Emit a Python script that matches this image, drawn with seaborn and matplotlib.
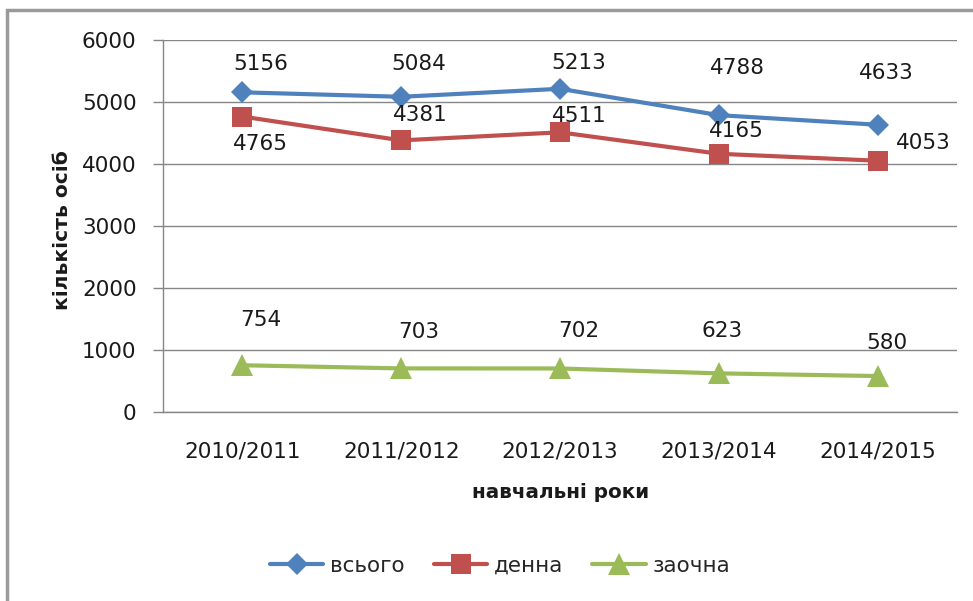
import pandas as pd
import seaborn as sns
import matplotlib.pyplot as plt
from matplotlib.patches import Rectangle

years = ['2010/2011', '2011/2012', '2012/2013', '2013/2014', '2014/2015']
vsogo = [5156, 5084, 5213, 4788, 4633]
denna = [4765, 4381, 4511, 4165, 4053]
zaochna = [754, 703, 702, 623, 580]

series_names = ['всього', 'денна', 'заочна']
colors = {'всього': '#4F81BD', 'денна': '#C0504D', 'заочна': '#9BBB59'}
markers = {'всього': 'D', 'денна': 's', 'заочна': '^'}
msizes = {'всього': 11, 'денна': 15, 'заочна': 16}

# label offsets in pixels (dx, dy) for each series, per point
label_offsets = {
    'всього': [(18, 28), (18, 33), (19, 26), (19, 47), (9, 52)],
    'денна': [(18, -27), (19, 25), (19, 16), (18, 23), (46, 18)],
    'заочна': [(18, 45), (18, 36), (19, 37), (3, 42), (9, 33)],
}

rows = []
for name, vals in zip(series_names, [vsogo, denna, zaochna]):
    for i, v in enumerate(vals):
        rows.append({'pos': i, 'year': years[i], 'value': v, 'series': name})
df = pd.DataFrame(rows)

sns.set_style('white')
plt.rcParams['font.family'] = ['DejaVu Sans']

fig = plt.figure(figsize=(9.73, 6.01), dpi=100)
ax = fig.add_axes([163 / 973, 1 - 412 / 601, (957 - 163) / 973, (412 - 40) / 601])

# outer chart border
fig.patches.append(Rectangle((7 / 973, -0.1), 1.2, 1 - 10 / 601 + 0.1,
                             transform=fig.transFigure, fill=False,
                             edgecolor='#9a9a9a', linewidth=2.5))

sns.lineplot(data=df, x='pos', y='value', hue='series', style='series',
             palette=colors, markers=markers, dashes=False, linewidth=3,
             markeredgewidth=0, ax=ax, legend=True)

for name, line in zip(series_names, ax.lines[:3]):
    line.set_markersize(msizes[name])

for name, vals in zip(series_names, [vsogo, denna, zaochna]):
    for i, v in enumerate(vals):
        dx, dy = label_offsets[name][i]
        ax.annotate(str(v), (i, v), xytext=(dx, dy), textcoords='offset pixels',
                    ha='center', va='center', fontsize=15.5, color='#1a1a1a')

ax.set_xlim(-0.5, 4.5)
ax.set_ylim(0, 6000)
ax.set_yticks(range(0, 6001, 1000))
ax.set_xticks(range(5))
ax.set_xticklabels(years)
ax.set_xticks([i - 0.5 for i in range(6)], minor=True)
ax.tick_params(axis='x', which='major', length=0, pad=21, labelsize=15.5, labelcolor='#1a1a1a')
ax.tick_params(axis='x', which='minor', length=7, width=1, color='#868686', direction='out')
ax.tick_params(axis='y', length=7, width=1, color='#868686', direction='out', pad=12,
               labelsize=15.5, labelcolor='#1a1a1a', left=True)
ax.grid(axis='y', color='#868686', linewidth=1)
ax.set_axisbelow(True)
for s in ['top', 'right']:
    ax.spines[s].set_visible(False)
for s in ['left', 'bottom']:
    ax.spines[s].set_color('#868686')
    ax.spines[s].set_linewidth(1)

ax.set_xlabel('')
ax.set_ylabel('')
fig.text(63 / 973, 1 - 230 / 601, 'кількість осіб', rotation=90, ha='center', va='center',
         fontsize=14.6, fontweight='bold', color='#1a1a1a')
fig.text(561 / 973, 1 - 492 / 601, 'навчальні роки', ha='center', va='center',
         fontsize=14.4, fontweight='bold', color='#1a1a1a')

handles, labels = ax.get_legend_handles_labels()
ax.get_legend().remove()
for h, l in zip(handles, labels):
    h.set_markersize(msizes[l])
    h.set_linewidth(3)
fig.legend(handles, labels, loc='center', bbox_to_anchor=(500 / 973, 1 - 566 / 601),
           ncol=3, frameon=False, fontsize=15.5, handlelength=2.5, columnspacing=1.35,
           handletextpad=0.3)

fig.savefig('out.png', dpi=100)
